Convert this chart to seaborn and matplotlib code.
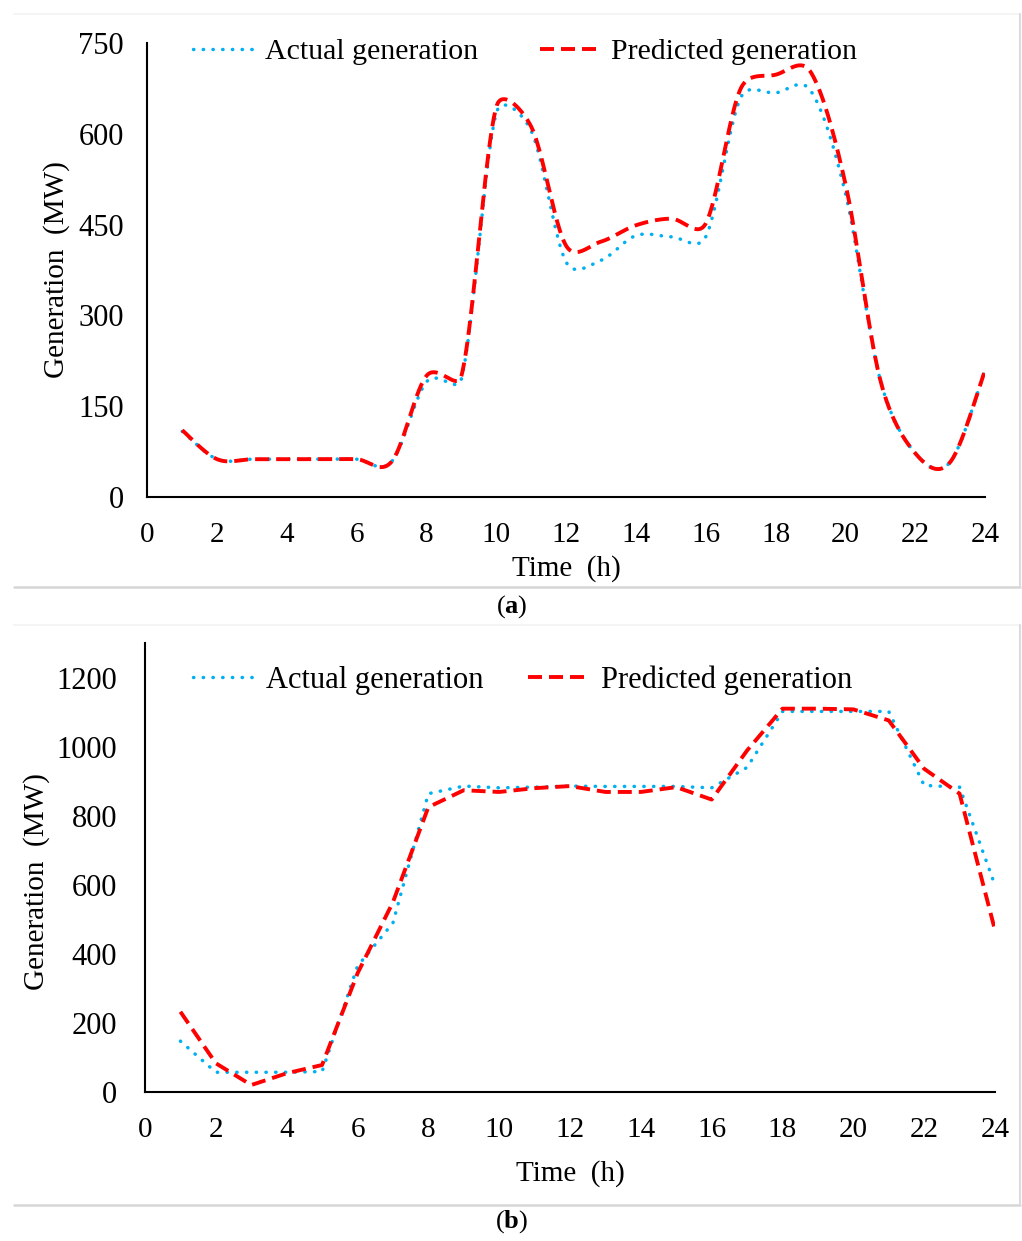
import numpy as np
import pandas as pd
import matplotlib
matplotlib.use("Agg")
import matplotlib.pyplot as plt
import seaborn as sns
from matplotlib.lines import Line2D

# ---------------- data ----------------
hours = list(range(1, 25))

# (a) hourly values, drawn as smoothed lines
actual_a = [108, 62, 62, 62, 62, 62, 58, 190, 195, 635, 605, 388, 391, 432, 430, 430,
            660, 668, 672, 502, 193, 72, 57, 209]
pred_a = [110, 62, 62, 62, 62, 62, 58, 200, 200, 645, 612, 415, 422, 449, 460, 452,
          675, 698, 703, 518, 193, 72, 57, 209]

# (b) hourly values, straight lines
actual_b = [148, 58, 58, 58, 60, 365, 490, 864, 886, 881, 883, 886, 885, 885, 885, 881,
            940, 1102, 1102, 1102, 1102, 888, 883, 599]
pred_b = [233, 84, 21, 55, 79, 344, 550, 825, 874, 869, 880, 886, 869, 869, 883, 847,
          989, 1110, 1110, 1108, 1076, 936, 864, 469]

xticks = list(range(0, 25, 2))
yticks_a = [0, 150, 300, 450, 600, 750]
yticks_b = [0, 200, 400, 600, 800, 1000, 1200]

labels = ["Actual generation", "Predicted generation"]
xlabel = "Time  (h)"
ylabel = "Generation  (MW)"

BLUE = "#00b0f0"
RED = "#ff0000"


def excel_smooth(x, y, sx, sy, n=40):
    """Bezier smoothing in the manner of a spreadsheet 'smoothed line'."""
    P = np.column_stack([np.asarray(x, float) * sx, np.asarray(y, float) * sy])
    N = len(P)
    out = []
    for i in range(N - 1):
        p0 = P[i - 1] if i > 0 else P[i]
        p1, p2 = P[i], P[i + 1]
        p3 = P[i + 2] if i + 2 < N else P[i + 1]
        d12 = np.linalg.norm(p2 - p1)
        d02 = np.linalg.norm(p2 - p0)
        d13 = np.linalg.norm(p3 - p1)
        f0 = 1 / 6 if d02 / 6 < d12 / 2 else (d12 / (2 * d02) if d02 > 0 else 0)
        f3 = 1 / 6 if d13 / 6 < d12 / 2 else (d12 / (2 * d13) if d13 > 0 else 0)
        c1 = p1 + (p2 - p0) * f0
        c2 = p2 - (p3 - p1) * f3
        t = np.linspace(0, 1, n, endpoint=(i == N - 2))[:, None]
        seg = ((1 - t) ** 3) * p1 + 3 * ((1 - t) ** 2) * t * c1 + 3 * (1 - t) * t ** 2 * c2 + t ** 3 * p2
        out.append(seg)
    out = np.vstack(out)
    return out[:, 0] / sx, out[:, 1] / sy


# ---------------- style ----------------
sns.set_theme(style="white")
plt.rcParams["font.family"] = ["Liberation Serif", "DejaVu Serif"]
plt.rcParams["text.color"] = "black"
plt.rcParams["axes.labelcolor"] = "black"
plt.rcParams["mathtext.fontset"] = "custom"
plt.rcParams["mathtext.rm"] = "Liberation Serif"
plt.rcParams["mathtext.bf"] = "Liberation Serif:bold"

W, H = 1022, 1241
fig = plt.figure(figsize=(W / 100, H / 100), dpi=100)
fig.patch.set_facecolor("white")


def fx(px):
    return px / W


def fy(py):
    return 1 - py / H


# frames (light grey borders)
for (y_top, y_bot) in [(14, 587), (625, 1205)]:
    fig.add_artist(Line2D([fx(14), fx(1020)], [fy(y_top), fy(y_top)], color="#f2f2f2", lw=1.2))
    fig.add_artist(Line2D([fx(14), fx(1020)], [fy(y_bot), fy(y_bot)], color="#d6d6d6", lw=1.8))
    fig.add_artist(Line2D([fx(1020), fx(1020)], [fy(y_top), fy(y_bot)], color="#dcdcdc", lw=1.5))

A1 = dict(l=147.3, r=985, t=43.3, b=496.7)
A2 = dict(l=145, r=995, t=643, b=1092.3)
ax1 = fig.add_axes([fx(A1["l"]), fy(A1["b"]), (A1["r"] - A1["l"]) / W, (A1["b"] - A1["t"]) / H])
ax2 = fig.add_axes([fx(A2["l"]), fy(A2["b"]), (A2["r"] - A2["l"]) / W, (A2["b"] - A2["t"]) / H])

dot_style = dict(color=BLUE, lw=2.5, dash_capstyle="round", linestyle=(0, (0.1, 2.7)))
dash_style = dict(color=RED, lw=2.8, linestyle=(0, (3.6, 1.8)))

# (a)
sx = (A1["r"] - A1["l"]) / 24
sy = (A1["b"] - A1["t"]) / 750
xa, ya = excel_smooth(hours, actual_a, sx, sy)
xp, yp = excel_smooth(hours, pred_a, sx, sy)
sns.lineplot(x=xa, y=ya, ax=ax1, sort=False, estimator=None, label=labels[0], **dot_style)
sns.lineplot(x=xp, y=yp, ax=ax1, sort=False, estimator=None, label=labels[1], **dash_style)

# (b)
sns.lineplot(x=hours, y=actual_b, ax=ax2, sort=False, estimator=None, label=labels[0], **dot_style)
sns.lineplot(x=hours, y=pred_b, ax=ax2, sort=False, estimator=None, label=labels[1], **dash_style)

for ax, yt, ylim, ypad in [(ax1, yticks_a, (0, 750), 11), (ax2, yticks_b, (0, 1300), 14)]:
    ax.set_xlim(0, 24)
    ax.set_ylim(*ylim)
    ax.set_xticks(xticks)
    ax.set_yticks(yt)
    for s in ["top", "right"]:
        ax.spines[s].set_visible(False)
    for s in ["left", "bottom"]:
        ax.spines[s].set_color("black")
        ax.spines[s].set_linewidth(1.5)
    ax.tick_params(axis="both", which="major", direction="out", length=6, width=1.5,
                   color="black", labelcolor="black")
    ax.tick_params(axis="x", pad=12, labelsize=21)
    ax.tick_params(axis="y", pad=ypad, labelsize=22)
    ax.set_xlabel(xlabel, fontsize=21, color="black")
    ax.set_ylabel(ylabel, fontsize=21, color="black")
    ax.set_facecolor("white")
    ax.grid(False)

ax1.yaxis.set_label_coords(-(A1["l"] - 70) / (A1["r"] - A1["l"]), 0.5)
ax2.yaxis.set_label_coords(-(A2["l"] - 50) / (A2["r"] - A2["l"]), 0.47)
ax1.xaxis.set_label_coords(0.5, -(555 - A1["b"]) / (A1["b"] - A1["t"]))
ax2.xaxis.set_label_coords(0.5, -(1160 - A2["b"]) / (A2["b"] - A2["t"]))

leg_kw = dict(ncol=2, frameon=False, handlelength=2.07, handletextpad=0.33,
              borderaxespad=0, borderpad=0, loc="center left", labelcolor="black")
ax1.legend(bbox_to_anchor=((193 - A1["l"]) / (A1["r"] - A1["l"]), 1 - (52 - A1["t"]) / (A1["b"] - A1["t"])),
           fontsize=21.5, columnspacing=2.07, **leg_kw)
ax2.legend(bbox_to_anchor=((193 - A2["l"]) / (A2["r"] - A2["l"]), 1 - (680 - A2["t"]) / (A2["b"] - A2["t"])),
           fontsize=22, columnspacing=1.45, **leg_kw)

fig.text(fx(512), fy(607), r"($\mathbf{a}$)", ha="center", va="center", fontsize=19, color="black")
fig.text(fx(512), fy(1222), r"($\mathbf{b}$)", ha="center", va="center", fontsize=19, color="black")

fig.savefig("out.png", dpi=100, facecolor="white")
